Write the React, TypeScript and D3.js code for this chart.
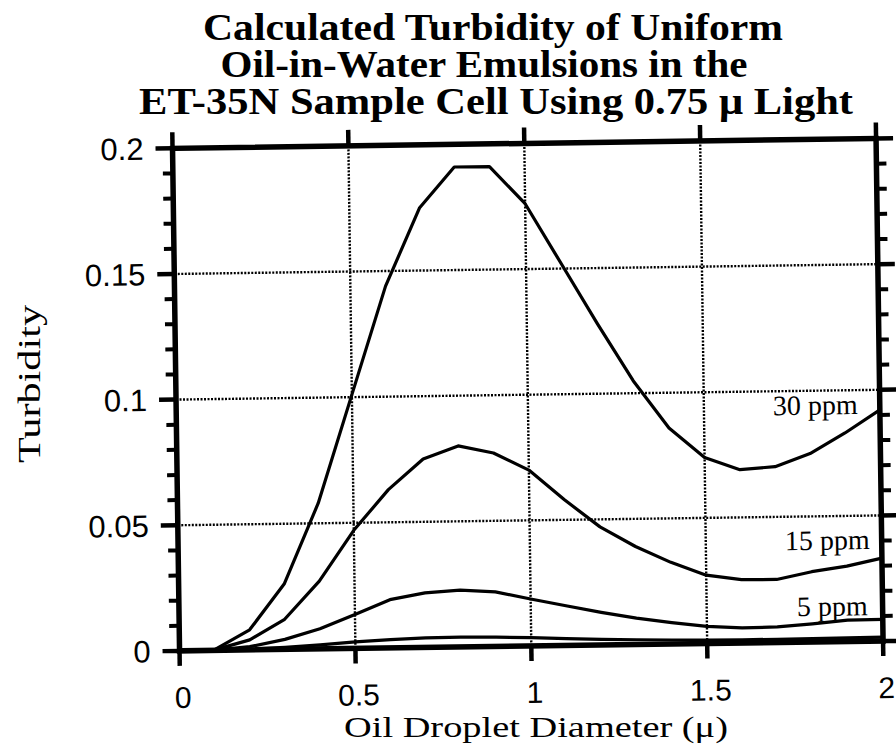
import React from "react";
import * as d3 from "d3";

// Oil droplet diameter (micron)
const diameters = [0, 0.1, 0.2, 0.3, 0.4, 0.5, 0.6, 0.7, 0.8, 0.9, 1.0, 1.1, 1.2, 1.3, 1.4, 1.5, 1.6, 1.7, 1.8, 1.9, 2.0];
// Turbidity series
const turb30ppm = [0, 0.0003, 0.008, 0.026, 0.058, 0.101, 0.144, 0.175, 0.191, 0.191, 0.176, 0.152, 0.128, 0.105, 0.086, 0.074, 0.069, 0.07, 0.075, 0.083, 0.092];
const turb15ppm = [0, 0.0002, 0.004, 0.012, 0.027, 0.047, 0.063, 0.075, 0.08, 0.077, 0.07, 0.058, 0.047, 0.039, 0.0325, 0.0272, 0.0252, 0.0251, 0.028, 0.03, 0.033];
const turb5ppm = [0, 0.0001, 0.0013, 0.004, 0.008, 0.0135, 0.0192, 0.0217, 0.0226, 0.0217, 0.0187, 0.0158, 0.013, 0.0105, 0.0085, 0.0068, 0.006, 0.0062, 0.0072, 0.0085, 0.0086];
const turb1ppm = [0, 0, 0.0003, 0.0008, 0.0016, 0.0026, 0.0033, 0.0038, 0.0039, 0.0037, 0.0033, 0.0027, 0.0022, 0.0019, 0.0016, 0.0014, 0.0013, 0.0013, 0.0014, 0.0015, 0.0016];

const xTicks = [0, 0.5, 1, 1.5, 2];
const xTickLabels = ["0", "0.5", "1", "1.5", "2"];
const yTicks = [0, 0.05, 0.1, 0.15, 0.2];
const yTickLabels = ["0", "0.05", "0.1", "0.15", "0.2"];
const xGrid = [0.5, 1, 1.5];
const yGrid = [0.05, 0.1, 0.15];

const seriesLabels = ["30 ppm", "15 ppm", "5 ppm"];
const seriesLabelY = [0.0905, 0.0367, 0.0104];

const titleLines = [
  "Calculated Turbidity of Uniform",
  "Oil-in-Water Emulsions in the",
  "ET-35N Sample Cell Using 0.75 \u03bc Light",
];
const xTitle = "Oil Droplet Diameter (\u03bc)";
const yTitle = "Turbidity";

export default function App() {
  const W = 896, H = 749;
  const left = 176, right = 879.6, top = 143.4, bottom = 646;
  const cx = (left + right) / 2, cy = (top + bottom) / 2;
  const x = d3.scaleLinear().domain([0, 2]).range([left, right]);
  const y = d3.scaleLinear().domain([0, 0.2]).range([bottom, top]);
  const line = d3
    .line<number>()
    .x((_, i) => x(diameters[i]))
    .y((d) => y(d))
    .curve(d3.curveLinear);

  const minorY: number[] = [];
  for (let i = 0; i <= 20; i++) if (i % 5 !== 0) minorY.push(i / 100);

  const series = [turb30ppm, turb15ppm, turb5ppm, turb1ppm];
  const labelEnds = [-22, -12, -15];
  const titleCenters = [493, 484, 496];
  const titleWidths = [580, 527, 714];
  const titleBase = [40, 77, 114];

  const sans = "'Liberation Sans', Arial, sans-serif";
  const serif = "'Liberation Serif', 'Times New Roman', serif";

  return (
    <svg width={W} height={H} style={{ position: "absolute", left: 0, top: 0, background: "#fff" }}>
      <rect x={0} y={0} width={W} height={H} fill="#fff" />
      {titleLines.map((t, i) => (
        <text
          key={i}
          x={titleCenters[i]}
          y={titleBase[i]}
          textAnchor="middle"
          fontFamily={serif}
          fontWeight="bold"
          fontSize={37}
          textLength={titleWidths[i]}
          lengthAdjust="spacingAndGlyphs"
          fill="#000"
        >
          {t}
        </text>
      ))}
      <text
        x={536}
        y={737}
        textAnchor="middle"
        fontFamily={serif}
        fontSize={29}
        textLength={384}
        lengthAdjust="spacingAndGlyphs"
        fill="#000"
      >
        {xTitle}
      </text>
      <text
        transform={`translate(40,384) rotate(-90)`}
        textAnchor="middle"
        fontFamily={serif}
        fontSize={32}
        textLength={158}
        lengthAdjust="spacingAndGlyphs"
        fill="#000"
      >
        {yTitle}
      </text>
      <g transform={`rotate(-0.8, ${cx}, ${cy})`}>
        {/* grid */}
        {xGrid.map((g) => (
          <line key={"gx" + g} x1={x(g)} x2={x(g)} y1={y(0.2)} y2={y(0)} stroke="#000" strokeWidth={2.4} strokeDasharray="2 1.5" />
        ))}
        {yGrid.map((g) => (
          <line key={"gy" + g} x1={x(0)} x2={x(2)} y1={y(g)} y2={y(g)} stroke="#000" strokeWidth={2.4} strokeDasharray="2 1.5" />
        ))}
        {/* curves */}
        {series.map((s, i) => (
          <path key={"s" + i} d={line(s) || ""} fill="none" stroke="#000" strokeWidth={3.2} strokeLinejoin="round" />
        ))}
        {/* frame */}
        <rect x={x(0)} y={y(0.2)} width={x(2) - x(0)} height={y(0) - y(0.2)} fill="none" stroke="#000" strokeWidth={5.5} />
        {/* y ticks */}
        {yTicks.map((t) => (
          <g key={"yt" + t}>
            <line x1={x(0) - 17} x2={x(0)} y1={y(t)} y2={y(t)} stroke="#000" strokeWidth={4.5} />
            <line x1={x(2)} x2={x(2) + 17} y1={y(t)} y2={y(t)} stroke="#000" strokeWidth={4.5} />
          </g>
        ))}
        {minorY.map((t) => (
          <g key={"ym" + t}>
            <line x1={x(0) - 10} x2={x(0)} y1={y(t)} y2={y(t)} stroke="#000" strokeWidth={4} />
            <line x1={x(2)} x2={x(2) + 10} y1={y(t)} y2={y(t)} stroke="#000" strokeWidth={4} />
          </g>
        ))}
        {xTicks.map((t) => (
          <g key={"xt" + t}>
            <line x1={x(t)} x2={x(t)} y1={y(0.2) - 16} y2={y(0.2)} stroke="#000" strokeWidth={4.5} />
            <line x1={x(t)} x2={x(t)} y1={y(0)} y2={y(0) + 15} stroke="#000" strokeWidth={4.5} />
          </g>
        ))}
        {yTicks.map((t, i) => (
          <text key={"yl" + t} x={x(0) - 29} y={y(t) + 11} textAnchor="end" fontFamily={sans} fontSize={31} fill="#000">
            {yTickLabels[i]}
          </text>
        ))}
        {xTicks.map((t, i) => (
          <text key={"xl" + t} x={x(t) + 3} y={y(0) + 57} textAnchor="middle" fontFamily={sans} fontSize={30} fill="#000">
            {xTickLabels[i]}
          </text>
        ))}
        {seriesLabels.map((l, i) => (
          <text key={"sl" + i} x={x(2) + labelEnds[i]} y={y(seriesLabelY[i])} textAnchor="end" fontFamily={serif} fontSize={28} fill="#000">
            {l}
          </text>
        ))}
      </g>
    </svg>
  );
}
